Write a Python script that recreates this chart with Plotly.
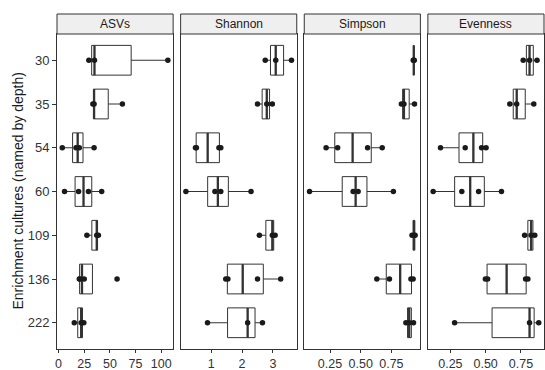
import numpy as np
import plotly.graph_objects as go

# ---------------- data ----------------
categories = ["30", "35", "54", "60", "109", "136", "222"]
panel_titles = ["ASVs", "Shannon", "Simpson", "Evenness"]

asvs = [
    [29.5, 35.0, 106.5],
    [33.4, 34.6, 62.2],
    [3.6, 17.0, 20.2, 34.6],
    [5.8, 19.5, 29.1, 42.0],
    [27.6, 37.2, 38.8],
    [20.2, 20.6, 25.0, 57.0],
    [15.3, 22.0, 24.6],
]
shannon = [
    [2.75, 3.09, 3.60],
    [2.50, 2.80, 2.98],
    [0.49, 0.52, 1.25, 1.31],
    [0.18, 1.12, 1.31, 2.29],
    [2.56, 2.98, 3.07],
    [1.47, 1.54, 2.50, 3.25],
    [0.88, 2.18, 2.66],
]
simpson = [
    [0.928, 0.932, 0.936],
    [0.831, 0.852, 0.938],
    [0.218, 0.312, 0.556, 0.675],
    [0.083, 0.438, 0.479, 0.766],
    [0.918, 0.935, 0.943],
    [0.631, 0.734, 0.909, 0.927],
    [0.868, 0.895, 0.930],
]
evenness = [
    [0.766, 0.811, 0.864],
    [0.671, 0.720, 0.841],
    [0.180, 0.355, 0.471, 0.503],
    [0.128, 0.331, 0.450, 0.612],
    [0.776, 0.822, 0.848],
    [0.498, 0.514, 0.783, 0.799],
    [0.280, 0.811, 0.876],
]
x_tickvals = [[0, 25, 50, 75, 100], [1, 2, 3], [0.25, 0.50, 0.75], [0.25, 0.50, 0.75]]
x_ticktext = [["0", "25", "50", "75", "100"], ["1", "2", "3"],
              ["0.25", "0.50", "0.75"], ["0.25", "0.50", "0.75"]]
y_title = "Enrichment cultures (named by depth)"

# ---------------- styling ----------------
W, H = 545, 370
ML, MR, MT, MB = 57, 1, 14, 21
plot_w = W - ML - MR
plot_h = H - MT - MB
gap_px = 7.5
strip_px = 20
panel_w = (plot_w - 3 * gap_px) / 4
ytop = (plot_h - strip_px) / plot_h

FONT = "Liberation Sans, Arial, sans-serif"
DARK = "#333333"
BOXW = 0.68


def box_stats(grp):
    """ggplot2-style box statistics (R quantile type 7, 1.5 IQR whiskers)."""
    a = np.asarray(grp, dtype=float)
    q1, med, q3 = np.percentile(a, [25, 50, 75])
    iqr = q3 - q1
    inside = a[(a >= q1 - 1.5 * iqr) & (a <= q3 + 1.5 * iqr)]
    lf = min(q1, inside.min())
    uf = max(q3, inside.max())
    return q1, med, q3, lf, uf


fig = go.Figure()
metrics = [asvs, shannon, simpson, evenness]

layout = dict(
    width=W, height=H,
    margin=dict(l=ML, r=MR, t=MT, b=MB),
    paper_bgcolor="white", plot_bgcolor="white",
    showlegend=False, boxmode="overlay",
    font=dict(family=FONT, size=13, color=DARK),
)
shapes, annotations = [], []

for k, (vals, title) in enumerate(zip(metrics, panel_titles)):
    sfx = "" if k == 0 else str(k + 1)
    xa, ya = "x" + sfx, "y" + sfx
    xs = [v for grp in vals for v in grp]
    ys = [i for i, grp in enumerate(vals) for _ in grp]
    stats = [box_stats(g) for g in vals]

    fig.add_trace(go.Box(
        y=list(range(len(vals))), orientation="h", xaxis=xa, yaxis=ya,
        q1=[s[0] for s in stats], median=[s[1] for s in stats],
        q3=[s[2] for s in stats], lowerfence=[s[3] for s in stats],
        upperfence=[s[4] for s in stats],
        boxpoints=False, width=BOXW, whiskerwidth=0, fillcolor="white",
        line=dict(color=DARK, width=1), hoverinfo="skip",
    ))
    # thicker median line (ggplot style)
    mx, my = [], []
    for i, s in enumerate(stats):
        mx += [s[1], s[1], None]
        my += [i - BOXW / 2, i + BOXW / 2, None]
    fig.add_trace(go.Scatter(x=mx, y=my, mode="lines", xaxis=xa, yaxis=ya,
                             line=dict(color=DARK, width=2.3), hoverinfo="skip"))
    fig.add_trace(go.Scatter(x=xs, y=ys, mode="markers", xaxis=xa, yaxis=ya,
                             marker=dict(color="#1a1a1a", size=5.5), hoverinfo="skip"))

    lo, hi = min(xs), max(xs)
    r = hi - lo
    x0 = k * (panel_w + gap_px) / plot_w
    x1 = (k * (panel_w + gap_px) + panel_w) / plot_w
    layout["xaxis" + sfx] = dict(
        domain=[x0, x1], anchor=ya, range=[lo - 0.05 * r, hi + 0.05 * r],
        showgrid=False, zeroline=False, showline=True, mirror=True,
        linecolor=DARK, linewidth=1, ticks="outside", ticklen=3,
        tickcolor=DARK, tickwidth=1, tickvals=x_tickvals[k], ticktext=x_ticktext[k],
        tickfont=dict(family=FONT, size=12.5, color=DARK), automargin=False,
    )
    layout["yaxis" + sfx] = dict(
        domain=[0, ytop], anchor=xa, range=[len(categories) - 0.4, -0.6],
        showgrid=False, zeroline=False, showline=True, mirror=True,
        linecolor=DARK, linewidth=1,
        ticks="outside" if k == 0 else "", ticklen=4, tickcolor=DARK,
        tickvals=list(range(len(categories))), ticktext=categories,
        showticklabels=(k == 0), automargin=False,
        tickfont=dict(family=FONT, size=13, color=DARK),
    )
    shapes.append(dict(type="rect", xref="paper", yref="paper",
                       x0=x0, x1=x1, y0=ytop, y1=1,
                       fillcolor="#efefef", line=dict(color=DARK, width=1)))
    annotations.append(dict(text=title, xref="paper", yref="paper",
                            x=(x0 + x1) / 2, y=(ytop + 1) / 2, showarrow=False,
                            xanchor="center", yanchor="middle",
                            font=dict(family=FONT, size=12, color="#1a1a1a")))

annotations.append(dict(text=y_title, xref="paper", yref="paper",
                        x=(17 - ML) / plot_w, y=ytop / 2, textangle=-90,
                        showarrow=False, xanchor="center", yanchor="middle",
                        font=dict(family=FONT, size=14, color="#1a1a1a")))
layout["shapes"] = shapes
layout["annotations"] = annotations
fig.update_layout(**layout)

fig.write_html("out.html", config={"displayModeBar": False},
               post_script="document.body.style.margin='0';")
